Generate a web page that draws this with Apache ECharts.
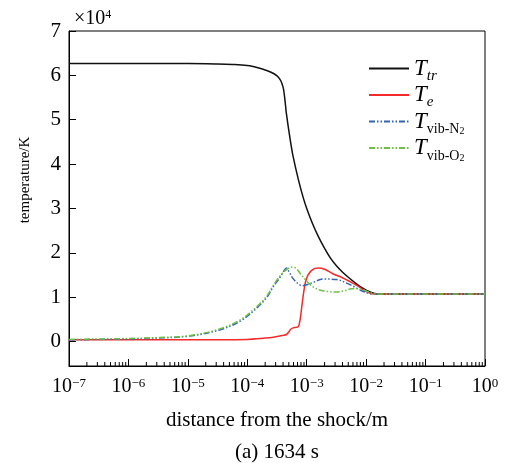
<!DOCTYPE html>
<html>
<head>
<meta charset="utf-8">
<script src="https://cdn.jsdelivr.net/npm/echarts@6/dist/echarts.min.js"></script>
<style>
  html, body { margin: 0; padding: 0; background: #fff; }
  #chart { width: 505px; height: 463px; }
</style>
</head>
<body>
<div id="chart"></div>
<script>
// temperatures in units of 1e4 K, distance in m
const ttrX = [1e-7, 1e-5, 3.16e-5, 5.62e-5, 1e-4, 1.26e-4, 1.62e-4, 2.0e-4, 2.51e-4, 3.16e-4, 3.55e-4, 3.8e-4, 4.07e-4, 4.32e-4, 4.57e-4, 5.25e-4, 5.89e-4, 7.24e-4, 8.71e-4, 1e-3, 1.26e-3, 1.58e-3, 2.0e-3, 2.51e-3, 3.16e-3, 3.98e-3, 5.01e-3, 6.31e-3, 7.94e-3, 1e-2, 1.26e-2, 1.58e-2, 2e-2, 1e-1, 1];
const ttrY = [6.27, 6.265, 6.255, 6.245, 6.225, 6.2, 6.16, 6.12, 6.07, 5.99, 5.91, 5.83, 5.69, 5.42, 5.12, 4.57, 4.18, 3.65, 3.25, 3.0, 2.65, 2.36, 2.1, 1.88, 1.71, 1.57, 1.45, 1.34, 1.24, 1.16, 1.1, 1.075, 1.07, 1.07, 1.07];

const teX = [1e-7, 1e-5, 1e-4, 2.0e-4, 2.75e-4, 3.98e-4, 4.57e-4, 5.01e-4, 5.37e-4, 5.89e-4, 6.61e-4, 7.24e-4, 7.76e-4, 8.32e-4, 8.91e-4, 9.55e-4, 1.05e-3, 1.2e-3, 1.38e-3, 1.58e-3, 2.0e-3, 2.75e-3, 3.98e-3, 5.37e-3, 7.08e-3, 8.91e-3, 1.12e-2, 1.41e-2, 1e-1, 1];
const teY = [0.04, 0.04, 0.05, 0.08, 0.1, 0.14, 0.16, 0.22, 0.28, 0.31, 0.32, 0.34, 0.5, 0.82, 1.12, 1.35, 1.5, 1.6, 1.65, 1.66, 1.63, 1.53, 1.44, 1.35, 1.26, 1.17, 1.1, 1.07, 1.07, 1.07];

const n2X = [1e-7, 1e-6, 3.16e-6, 1e-5, 3.16e-5, 7.6e-5, 1.45e-4, 2.14e-4, 2.75e-4, 3.55e-4, 4.07e-4, 4.57e-4, 5.01e-4, 5.89e-4, 7.24e-4, 8.32e-4, 1e-3, 1.26e-3, 1.91e-3, 3.16e-3, 5.01e-3, 7.08e-3, 8.91e-3, 1.17e-2, 1.41e-2, 1e-1, 1];
const n2Y = [0.04, 0.06, 0.08, 0.12, 0.25, 0.46, 0.76, 1.0, 1.24, 1.45, 1.58, 1.66, 1.58, 1.42, 1.3, 1.26, 1.28, 1.33, 1.41, 1.4, 1.3, 1.2, 1.13, 1.08, 1.07, 1.07, 1.07];

const o2X = [1e-7, 1e-6, 3.16e-6, 1e-5, 3.16e-5, 7.6e-5, 1.45e-4, 2.14e-4, 2.75e-4, 3.55e-4, 4.57e-4, 5.62e-4, 6.61e-4, 7.94e-4, 1e-3, 1.26e-3, 1.58e-3, 2.19e-3, 3.16e-3, 4.47e-3, 5.62e-3, 7.59e-3, 1e-2, 1.26e-2, 1.58e-2, 1e-1, 1];
const o2Y = [0.05, 0.07, 0.09, 0.13, 0.27, 0.49, 0.79, 1.03, 1.27, 1.48, 1.62, 1.68, 1.65, 1.52, 1.36, 1.24, 1.17, 1.13, 1.12, 1.15, 1.19, 1.19, 1.14, 1.09, 1.07, 1.07, 1.07];

const yTicks = [0, 1, 2, 3, 4, 5, 6, 7];
const decades = [1e-7, 1e-6, 1e-5, 1e-4, 1e-3, 1e-2, 1e-1];
const mantissas = [2, 3, 4, 5, 6, 7, 8, 9];

const Y_MIN = -0.55;
const FONT = 'Liberation Serif';

const zip = (xs, ys) => xs.map((x, i) => [x, ys[i]]);

const minorTicks = [];
decades.forEach((d) => mantissas.forEach((m) => minorTicks.push([m * d, Y_MIN])));

const legendText = {
  Ttr: '{t|T}{s|tr}',
  Te: '{t|T}{s|e}',
  TvibN2: '{t|T}{u|vib-N}{uu|2}',
  TvibO2: '{t|T}{u|vib-O}{uu|2}',
};

const chart = echarts.init(document.getElementById('chart'));

const lineSeries = (name, data, color, type) => ({
  name,
  type: 'line',
  data,
  showSymbol: false,
  symbol: 'none',
  smooth: 0.35,
  lineStyle: { color, width: 1.5, type },
  itemStyle: { color },
  z: 3,
});

chart.setOption({
  animation: false,
  backgroundColor: '#fff',
  textStyle: { fontFamily: FONT, color: '#000' },
  grid: {
    left: 69, right: 20, top: 31, bottom: 97,
    show: true, borderColor: '#000', borderWidth: 1,
  },
  legend: {
    orient: 'vertical',
    left: 363,
    top: 52,
    itemWidth: 40,
    itemHeight: 10,
    itemGap: 0,
    itemStyle: { opacity: 0 },
    data: ['Ttr', 'Te', 'TvibN2', 'TvibO2'],
    formatter: (name) => legendText[name],
    textStyle: {
      fontFamily: FONT,
      rich: {
        t: { fontFamily: FONT, fontStyle: 'italic', fontSize: 23, lineHeight: 30, verticalAlign: 'middle', color: '#000' },
        s: { fontFamily: FONT, fontStyle: 'italic', fontSize: 15, lineHeight: 18, verticalAlign: 'bottom', color: '#000' },
        u: { fontFamily: FONT, fontSize: 14, lineHeight: 18, verticalAlign: 'bottom', color: '#000' },
        uu: { fontFamily: FONT, fontSize: 10, lineHeight: 13, verticalAlign: 'bottom', color: '#000' },
      },
    },
  },
  xAxis: {
    type: 'log',
    logBase: 10,
    min: 1e-7,
    max: 1,
    name: 'distance from the shock/m',
    nameLocation: 'middle',
    nameGap: 44,
    nameTextStyle: { fontFamily: FONT, fontSize: 21, color: '#000' },
    axisLine: { show: true, onZero: false, lineStyle: { color: '#000', width: 1 } },
    axisTick: { show: true, inside: true, length: 7, lineStyle: { color: '#000' } },
    splitLine: { show: false },
    axisLabel: {
      margin: 11,
      color: '#000',
      fontFamily: FONT,
      formatter: (v) => {
        const e = Math.round(Math.log10(v));
        return '{b|10}{p|' + (e < 0 ? '\u2212' + (-e) : e) + '}';
      },
      rich: {
        b: { fontFamily: FONT, fontSize: 20, color: '#000', verticalAlign: 'bottom', lineHeight: 20 },
        p: { fontFamily: FONT, fontSize: 13, color: '#000', verticalAlign: 'top', lineHeight: 14 },
      },
    },
  },
  yAxis: {
    type: 'value',
    min: Y_MIN,
    max: 7,
    axisLine: { show: true, onZero: false, lineStyle: { color: '#000', width: 1 } },
    axisTick: { show: true, inside: true, length: 7, customValues: yTicks, lineStyle: { color: '#000' } },
    axisLabel: { customValues: yTicks, margin: 8, fontSize: 21, color: '#000', fontFamily: FONT },
    splitLine: { show: false },
  },
  graphic: [
    {
      type: 'text',
      left: 74, top: 9,
      style: {
        text: '×10{p|4}',
        fontFamily: FONT, fontSize: 20, fill: '#000',
        rich: { p: { fontFamily: FONT, fontSize: 12, verticalAlign: 'top', fill: '#000' } },
      },
    },
    {
      type: 'text',
      x: 25, y: 180, rotation: Math.PI / 2,
      style: { text: 'temperature/K', fontFamily: FONT, fontSize: 15, fill: '#000', align: 'center', verticalAlign: 'middle' },
    },
    {
      type: 'text',
      x: 277, y: 452,
      style: { text: '(a) 1634 s', fontFamily: FONT, fontSize: 21, fill: '#000', align: 'center', verticalAlign: 'middle' },
    },
  ],
  series: [
    lineSeries('Ttr', zip(ttrX, ttrY), '#111111', 'solid'),
    lineSeries('Te', zip(teX, teY), '#f5282a', 'solid'),
    lineSeries('TvibN2', zip(n2X, n2Y), '#3463b4', [6, 2, 1.5, 2, 1.5, 2]),
    lineSeries('TvibO2', zip(o2X, o2Y), '#6dc043', [6, 2, 1.5, 2, 1.5, 2]),
    {
      type: 'custom',
      silent: true,
      clip: false,
      data: minorTicks,
      renderItem: (params, api) => {
        const p = api.coord([api.value(0), api.value(1)]);
        return {
          type: 'line',
          shape: { x1: p[0], y1: p[1], x2: p[0], y2: p[1] - 4 },
          style: { stroke: '#000', lineWidth: 1 },
        };
      },
      z: 4,
    },
  ],
});
</script>
</body>
</html>
